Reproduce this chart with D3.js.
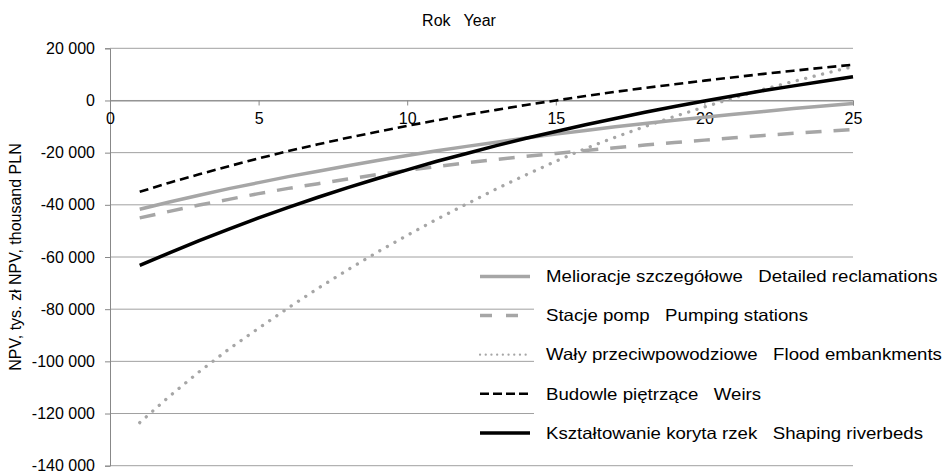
<!DOCTYPE html>
<html>
<head>
<meta charset="utf-8">
<script src="https://cdn.jsdelivr.net/npm/d3@7"></script>
<style>
  body { margin: 0; background: #fff; }
  text { font-family: "Liberation Sans", Arial, sans-serif; fill: #000; }
</style>
</head>
<body>
<div id="chart-container"></div>
<script>
// Chart size
const svgWidth = 944;
const svgHeight = 472;

// Years on the x axis
const years = [1, 2, 3, 4, 5, 6, 7, 8, 9, 10, 11, 12, 13, 14, 15, 16, 17, 18, 19, 20, 21, 22, 23, 24, 25];
const xTicks = [0, 5, 10, 15, 20, 25];
const yTicks = [20000, 0, -20000, -40000, -60000, -80000, -100000, -120000, -140000];

// NPV values, thousand PLN
const detailed = [-41700, -38900, -36300, -33800, -31500, -29200, -27100, -25000, -23000, -21100, -19300, -17600, -16000, -14400, -12900, -11500, -10100, -8800, -7600, -6400, -5300, -4200, -3100, -2100, -1200];
const pumping = [-45000, -42500, -40100, -37900, -35700, -33700, -31900, -30100, -28400, -26800, -25300, -23900, -22600, -21400, -20300, -19200, -18100, -17100, -16100, -15200, -14300, -13400, -12600, -11800, -11100];
const flood = [-123500, -113400, -104000, -95300, -87300, -79500, -72000, -64900, -58100, -51700, -45500, -39700, -33900, -28500, -23300, -18400, -14100, -10000, -6100, -2500, 1000, 4300, 7300, 10200, 13000];
const weirs = [-35000, -31500, -28300, -25200, -22200, -19400, -16800, -14300, -12000, -9700, -7600, -5500, -3600, -1700, 0, 1700, 3300, 4800, 6200, 7600, 8900, 10200, 11400, 12600, 13700];
const riverbeds = [-63200, -58400, -53700, -49300, -45000, -41000, -37100, -33400, -29900, -26600, -23300, -20300, -17300, -14500, -11900, -9300, -6900, -4500, -2300, -200, 1800, 3800, 5600, 7400, 9100];

const seriesNames = [
  'Melioracje szczegółowe   Detailed reclamations',
  'Stacje pomp   Pumping stations',
  'Wały przeciwpowodziowe   Flood embankments',
  'Budowle piętrzące   Weirs',
  'Kształtowanie koryta rzek   Shaping riverbeds'
];

// Line styles for each series
const styles = [
  { color: '#a6a6a6', width: 3.5, dash: null, cap: 'butt' },
  { color: '#a6a6a6', width: 3.5, dash: '16,12', cap: 'butt' },
  { color: '#a6a6a6', width: 3.3, dash: '0.1,8.6', cap: 'round' },
  { color: '#000000', width: 2.6, dash: '9,5', cap: 'butt' },
  { color: '#000000', width: 3.5, dash: null, cap: 'butt' }
];

const allSeries = [detailed, pumping, flood, weirs, riverbeds];

const svg = d3.select('#chart-container')
  .append('svg')
  .attr('width', svgWidth)
  .attr('height', svgHeight);

svg.append('rect').attr('width', svgWidth).attr('height', svgHeight).attr('fill', '#fff');

// Scales
const xScale = d3.scaleLinear().domain([0, 25]).range([110, 853]);
const yScale = d3.scaleLinear().domain([-140000, 20000]).range([465.7, 48.3]);

const locale = d3.formatLocale({ decimal: ',', thousands: ' ', grouping: [3], currency: ['', ''], minus: '-' });
const fmt = locale.format(',');

// Gridlines
svg.append('g')
  .selectAll('line')
  .data(yTicks)
  .enter()
  .append('line')
  .attr('x1', xScale(0))
  .attr('x2', xScale(25))
  .attr('y1', d => yScale(d))
  .attr('y2', d => yScale(d))
  .attr('stroke', '#a0a0a0')
  .attr('stroke-width', 1);

// Y axis
const yAxis = svg.append('g')
  .attr('transform', 'translate(' + xScale(0) + ',0)')
  .call(d3.axisLeft(yScale).tickValues(yTicks).tickFormat(fmt).tickSize(5).tickPadding(10));
yAxis.selectAll('text').style('font-size', '16px').attr('fill', '#000');

// X axis on the zero line
const xAxis = svg.append('g')
  .attr('transform', 'translate(0,' + yScale(0) + ')')
  .call(d3.axisBottom(xScale).tickValues(xTicks).tickFormat(d3.format('d')).tickSize(5).tickPadding(7));
xAxis.selectAll('text').style('font-size', '16px').attr('fill', '#000');

svg.selectAll('.domain, .tick line').attr('stroke', '#888').attr('stroke-width', 1);

// Lines
const line = d3.line()
  .x((d, i) => xScale(years[i]))
  .y(d => yScale(d));

allSeries.forEach((data, k) => {
  const s = styles[k];
  svg.append('path')
    .datum(data)
    .attr('d', line)
    .attr('fill', 'none')
    .attr('stroke', s.color)
    .attr('stroke-width', s.width)
    .attr('stroke-dasharray', s.dash)
    .attr('stroke-linecap', s.cap)
    .attr('stroke-linejoin', 'round');
});

// Legend
svg.append('rect')
  .attr('x', 534)
  .attr('y', 262)
  .attr('width', 410)
  .attr('height', 193)
  .attr('fill', '#fff');

const legend = svg.append('g');
seriesNames.forEach((name, k) => {
  const s = styles[k];
  const y = 276.5 + k * 39.1;
  legend.append('line')
    .attr('x1', 480).attr('x2', 530)
    .attr('y1', y).attr('y2', y)
    .attr('stroke', s.color)
    .attr('stroke-width', k === 2 ? 2.2 : s.width)
    .attr('stroke-dasharray', k === 1 ? '12,14' : (k === 2 ? '0.1,5.6' : (k === 3 ? '9,4' : null)))
    .attr('stroke-linecap', s.cap);
  // the legend lettering is wider than the axis lettering
  legend.append('text')
    .attr('transform', 'translate(546,' + y + ') scale(1.13,1)')
    .attr('dy', '0.35em')
    .style('font-size', '16.5px')
    .style('white-space', 'pre')
    .text(name);
});

// Axis titles
svg.append('text')
  .attr('x', 459)
  .attr('y', 20)
  .attr('dy', '0.35em')
  .attr('text-anchor', 'middle')
  .style('font-size', '16px')
  .style('white-space', 'pre')
  .text('Rok   Year');

svg.append('text')
  .attr('transform', 'translate(15,257) rotate(-90)')
  .attr('dy', '0.35em')
  .attr('text-anchor', 'middle')
  .style('font-size', '16px')
  .text('NPV, tys. zł NPV, thousand PLN');
</script>
</body>
</html>
